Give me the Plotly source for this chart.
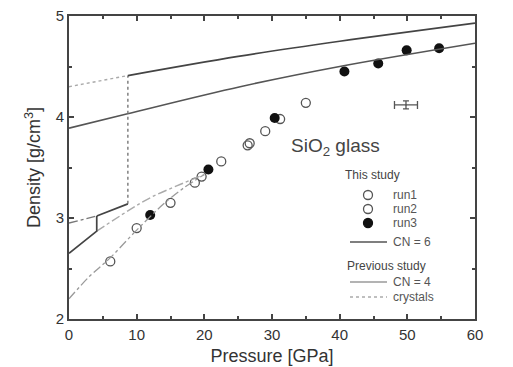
import plotly.graph_objects as go

# ---------------- data ----------------
run1_p = [6.1, 10.0, 15.0, 19.6, 26.4]
run1_d = [2.57, 2.90, 3.15, 3.41, 3.72]
run2_p = [18.6, 22.5, 26.7, 29.0, 31.2, 35.0]
run2_d = [3.35, 3.56, 3.74, 3.86, 3.98, 4.14]
run3_p = [12.0, 20.6, 30.4, 40.7, 45.7, 49.9, 54.7]
run3_d = [3.03, 3.48, 3.99, 4.45, 4.53, 4.66, 4.68]

cn6_p = [0, 8.5, 25.3, 40, 60]
cn6_d = [3.89, 4.03, 4.30, 4.50, 4.73]

cn4_p = [0, 3, 6, 10, 14, 17, 20]
cn4_d = [2.20, 2.42, 2.60, 2.88, 3.14, 3.30, 3.43]

# crystals: stable (solid) parts
quartz_p = [0, 4.1, 4.1]
quartz_d = [2.65, 2.87, 3.02]
coesite_p = [4.1, 8.7]
coesite_d = [3.02, 3.14]
stish_p = [8.7, 25, 40, 60]
stish_d = [4.41, 4.60, 4.75, 4.93]
# crystals: transitions / metastable (dotted) parts
trans_p = [8.7, 8.7]
trans_d = [3.14, 4.41]
stish_meta_p = [0, 8.7]
stish_meta_d = [4.30, 4.41]
coesite_meta_p = [0, 4.1]
coesite_meta_d = [2.95, 3.02]
quartz_meta_p = [4.1, 8.7, 12, 16, 20]
quartz_meta_d = [2.87, 3.07, 3.20, 3.32, 3.43]

# typical error bar symbol
err_p = [49.8]
err_d = [4.12]
err_dp = [1.7]
err_dd = [0.04]

x_ticks = [0, 10, 20, 30, 40, 50, 60]
y_ticks = [2, 3, 4, 5]

FONT = "Liberation Sans, Arial, sans-serif"
TXT = "#333333"
C_OPEN = "#555555"
C_FILL = "#111111"
C_CN6 = "#555555"
C_CN4 = "#9a9a9a"
C_CRYS = "#444444"
C_CRYS_DOT = "#777777"

fig = go.Figure()

# This study
fig.add_trace(go.Scatter(x=run1_p, y=run1_d, mode="markers", name="run1",
                         marker=dict(symbol="circle-open", size=9, color=C_OPEN,
                                     line=dict(width=1.3))))
fig.add_trace(go.Scatter(x=run2_p, y=run2_d, mode="markers", name="run2",
                         marker=dict(symbol="circle-open", size=9, color=C_OPEN,
                                     line=dict(width=1.3))))
fig.add_trace(go.Scatter(x=run3_p, y=run3_d, mode="markers", name="run3",
                         marker=dict(symbol="circle", size=10, color=C_FILL)))
fig.add_trace(go.Scatter(x=cn6_p, y=cn6_d, mode="lines", name="CN = 6",
                         line_shape="spline", line=dict(color=C_CN6, width=1.6)))

# Previous study
fig.add_trace(go.Scatter(x=cn4_p, y=cn4_d, mode="lines", name="CN = 4",
                         line_shape="spline",
                         line=dict(color=C_CN4, width=1.3, dash="dashdot")))
fig.add_trace(go.Scatter(x=trans_p, y=trans_d, mode="lines", name="crystals",
                         line=dict(color=C_CRYS_DOT, width=1.4, dash="dot")))
for px_, py_, st, col, shp in [
    (stish_meta_p, stish_meta_d, "dot", "#aaaaaa", "linear"),
    (coesite_meta_p, coesite_meta_d, "dashdot", "#777777", "linear"),
    (quartz_meta_p, quartz_meta_d, "dashdot", "#aaaaaa", "spline"),
    (quartz_p, quartz_d, "solid", C_CRYS, "linear"),
    (coesite_p, coesite_d, "solid", C_CRYS, "linear"),
    (stish_p, stish_d, "solid", C_CRYS, "spline"),
]:
    fig.add_trace(go.Scatter(x=px_, y=py_, mode="lines", showlegend=False,
                             line_shape=shp,
                             line=dict(color=col, width=1.4 if st != "solid" else 1.7,
                                       dash=st)))

# error bar symbol
fig.add_trace(go.Scatter(x=err_p, y=err_d, mode="markers", showlegend=False,
                         marker=dict(size=1, color="#555555"),
                         error_x=dict(type="data", array=err_dp, color="#555555",
                                      thickness=1.3, width=4),
                         error_y=dict(type="data", array=err_dd, color="#555555",
                                      thickness=1.3, width=3)))

# ---------------- hand-placed legend (paper coordinates) ----------------
def px2x(px):
    return (px - 69) / 406.0


def py2y(py):
    return (319 - py) / 303.0


def legend_text(px, py, text, size=12, color="#555555"):
    fig.add_annotation(x=px2x(px), y=py2y(py), xref="paper", yref="paper",
                       xanchor="left", yanchor="middle", text=text, showarrow=False,
                       font=dict(family=FONT, size=size, color=color))


def legend_circle(py, filled):
    fig.add_shape(type="circle", xref="paper", yref="paper",
                  xsizemode="pixel", ysizemode="pixel",
                  xanchor=px2x(368), yanchor=py2y(py),
                  x0=-4.5, x1=4.5, y0=-4.5, y1=4.5,
                  line=dict(color=C_FILL if filled else C_OPEN, width=1.3),
                  fillcolor=C_FILL if filled else "rgba(0,0,0,0)")


def legend_line(py, color, width, dash):
    fig.add_shape(type="line", xref="paper", yref="paper",
                  x0=px2x(350), x1=px2x(387), y0=py2y(py), y1=py2y(py),
                  line=dict(color=color, width=width, dash=dash))


legend_text(343, 175, "This study", color="#444444")
legend_circle(195, False); legend_text(391, 195, "run1")
legend_circle(209, False); legend_text(391, 209, "run2")
legend_circle(223, True); legend_text(391, 223, "run3")
legend_line(242, C_CN6, 1.6, "solid"); legend_text(391, 242, "CN = 6")
legend_text(345, 266, "Previous study", color="#444444")
legend_line(282, C_CN4, 1.5, "solid"); legend_text(391, 282, "CN = 4")
legend_line(297, "#aaaaaa", 1.4, "dot"); legend_text(391, 297, "crystals")

fig.add_annotation(x=0.771, y=0.568, xref="paper", yref="paper",
                   text="SiO<sub>2</sub> glass", showarrow=False,
                   font=dict(family=FONT, size=19, color="#444444"))

axis_common = dict(showline=True, linecolor="#444444", linewidth=2, mirror="ticks",
                   ticks="inside", ticklen=5, tickwidth=1.5, tickcolor="#444444",
                   showgrid=False, zeroline=False, automargin=False,
                   tickfont=dict(family=FONT, size=15, color=TXT))

fig.update_layout(
    width=513, height=367,
    margin=dict(l=69, r=38, t=16, b=48),
    paper_bgcolor="white", plot_bgcolor="white",
    font=dict(family=FONT, color=TXT),
    showlegend=False,
    xaxis=dict(range=[0, 60], tickvals=x_ticks, ticklabelstandoff=1,
               minor=dict(dtick=5, ticks="inside", ticklen=3, tickcolor="#444444"),
               title=dict(text="Pressure [GPa]", font=dict(family=FONT, size=18, color=TXT),
                          standoff=7),
               **axis_common),
    yaxis=dict(range=[2, 5], tickvals=y_ticks,
               minor=dict(dtick=0.5, ticks="inside", ticklen=3, tickcolor="#444444"),
               title=dict(text="Density [g/cm<sup>3</sup>]",
                          font=dict(family=FONT, size=18, color=TXT), standoff=10),
               **axis_common),
)

fig.write_html("out.html")
